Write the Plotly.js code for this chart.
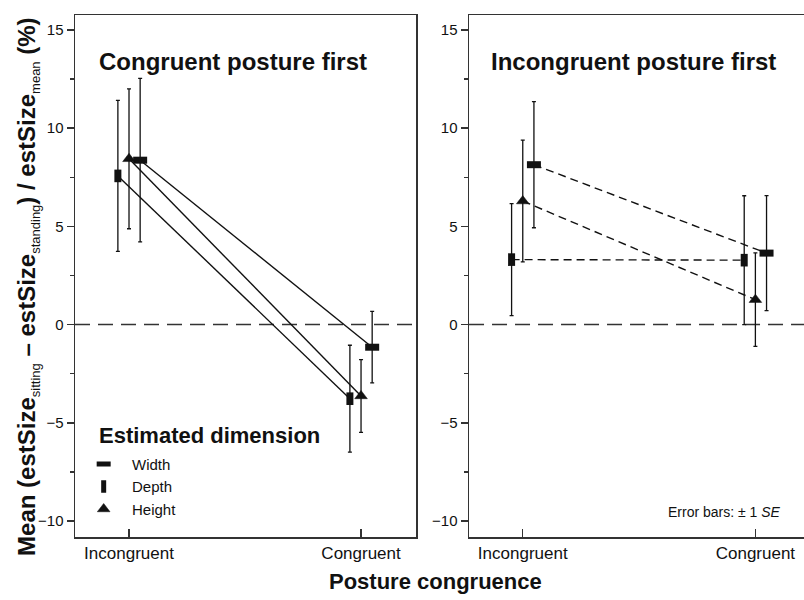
<!DOCTYPE html>
<html>
<head>
<meta charset="utf-8">
<script src="https://cdn.plot.ly/plotly-3.0.1.min.js"></script>
<style>html,body{margin:0;padding:0;background:#fff;}#chart{width:804px;height:600px;}</style>
</head>
<body>
<div id="chart"></div>
<script>
// ---- Data ----
const categories = ['Incongruent', 'Congruent'];
const dimensions = ['Width', 'Depth', 'Height'];

// Panel 1: Congruent posture first
const cfWidthMean  = [8.37, -1.15];
const cfWidthSE    = [4.16, 1.82];
const cfDepthMean  = [7.57, -3.77];
const cfDepthSE    = [3.84, 2.72];
const cfHeightMean = [8.44, -3.63];
const cfHeightSE   = [3.56, 1.85];

// Panel 2: Incongruent posture first
const ifWidthMean  = [8.14, 3.64];
const ifWidthSE    = [3.21, 2.93];
const ifDepthMean  = [3.31, 3.28];
const ifDepthSE    = [2.85, 3.28];
const ifHeightMean = [6.29, 1.27];
const ifHeightSE   = [3.10, 2.38];

const yTickVals = [-10, -5, 0, 5, 10, 15];

// ---- Styling ----
const FONT = 'Liberation Sans, Arial, sans-serif';
const INK = '#111';
const AX = '#333';
const offsets = {Width: 0.048, Depth: -0.048, Height: 0};
const symbols = {Width: 'line-ew', Depth: 'line-ns', Height: 'triangle-up'};
const sizes = {Width: 10, Depth: 9, Height: 11};
const lw = {Width: 7, Depth: 7, Height: 0.5};

const panels = [
  {xa: 'x', ya: 'y', dash: 'solid', legend: true,
   data: {Width: [cfWidthMean, cfWidthSE], Depth: [cfDepthMean, cfDepthSE], Height: [cfHeightMean, cfHeightSE]}},
  {xa: 'x2', ya: 'y2', dash: '8px,5px', legend: false,
   data: {Width: [ifWidthMean, ifWidthSE], Depth: [ifDepthMean, ifDepthSE], Height: [ifHeightMean, ifHeightSE]}}
];

const traces = [];
panels.forEach(p => {
  dimensions.forEach(dim => {
    const [mean, se] = p.data[dim];
    const xs = categories.map((c, i) => i + offsets[dim]);
    traces.push({
      type: 'scatter', mode: 'lines', x: xs, y: mean, xaxis: p.xa, yaxis: p.ya,
      line: {color: INK, width: 1.4, dash: p.dash}, showlegend: false, hoverinfo: 'skip'
    });
  });
  dimensions.forEach(dim => {
    const [mean, se] = p.data[dim];
    const xs = categories.map((c, i) => i + offsets[dim]);
    traces.push({
      type: 'scatter', mode: 'markers', name: '\u00A0\u00A0' + dim, x: xs, y: mean,
      xaxis: p.xa, yaxis: p.ya, showlegend: p.legend,
      marker: {symbol: symbols[dim], size: sizes[dim], color: INK, line: {color: INK, width: lw[dim]}},
      error_y: {type: 'data', array: se, visible: true, color: INK, thickness: 1.3, width: 2}
    });
  });
});

const yRange = [-10.81, 15.76];
function yAxis(extra) {
  return Object.assign({
    range: yRange, tickmode: 'array', tickvals: yTickVals, ticks: 'outside', ticklen: 7,
    tickwidth: 1.4, tickcolor: AX, showline: true, linecolor: AX, linewidth: 1.5,
    showgrid: false, zeroline: false, tickfont: {family: FONT, size: 15, color: INK},
    minor: {dtick: 2.5, tick0: 0, ticks: 'outside', ticklen: 4, tickcolor: AX, tickwidth: 1.2, showgrid: false}
  }, extra);
}
function xAxis(extra) {
  return Object.assign({
    tickmode: 'array', tickvals: [0, 1], ticktext: categories, ticks: 'inside', ticklen: 8,
    tickwidth: 1.4, tickcolor: AX, showline: true, linecolor: AX, linewidth: 1.5, mirror: true,
    showgrid: false, zeroline: false, tickfont: {family: FONT, size: 17, color: INK}
  }, extra);
}

const SUB = s => '<sub><span style="font-size:13px;font-weight:normal">' + s + '</span></sub>';

const layout = {
  width: 804, height: 600,
  margin: {l: 75, r: 0, t: 15, b: 63},
  paper_bgcolor: '#fff', plot_bgcolor: '#fff',
  font: {family: FONT, color: INK},
  showlegend: true,
  xaxis: xAxis({domain: [0, 0.4678], range: [-0.2328, 1.237]}),
  xaxis2: xAxis({domain: [0.5405, 1], range: [-0.231, 1.209], anchor: 'y2'}),
  yaxis: yAxis({anchor: 'x', mirror: true}),
  yaxis2: yAxis({anchor: 'x2', mirror: false}),
  legend: {
    x: 0.0119, y: 0.171, xanchor: 'left', yanchor: 'top', bgcolor: 'rgba(0,0,0,0)',
    font: {family: FONT, size: 15, color: INK},
    traceorder: 'normal'
  },
  shapes: [
    {type: 'line', xref: 'x domain', yref: 'y', x0: 0, x1: 1, y0: 0, y1: 0, layer: 'below',
     line: {color: AX, width: 1.5, dash: '15px,8px'}},
    {type: 'line', xref: 'x2 domain', yref: 'y2', x0: 0, x1: 1, y0: 0, y1: 0, layer: 'below',
     line: {color: AX, width: 1.5, dash: '15px,8px'}}
  ],
  annotations: [
    {xref: 'paper', yref: 'paper', x: 0.0302, y: 0.91, xanchor: 'left', yanchor: 'middle', showarrow: false,
     text: '<b>Congruent posture first</b>', font: {family: FONT, size: 24, color: INK}},
    {xref: 'paper', yref: 'paper', x: 0.568, y: 0.91, xanchor: 'left', yanchor: 'middle', showarrow: false,
     text: '<b>Incongruent posture first</b>', font: {family: FONT, size: 24, color: INK}},
    {xref: 'paper', yref: 'paper', x: 0.0302, y: 0.195, xanchor: 'left', yanchor: 'middle', showarrow: false,
     text: '<b>Estimated dimension</b>', font: {family: FONT, size: 22, color: INK}},
    {xref: 'paper', yref: 'paper', x: 0.971, y: 0.048, xanchor: 'right', yanchor: 'middle', showarrow: false,
     text: 'Error bars: \u00B1 1 <i>SE</i>', font: {family: FONT, size: 14, color: INK}},
    {xref: 'paper', yref: 'paper', x: 0.495, y: -0.086, xanchor: 'center', yanchor: 'middle', showarrow: false,
     text: '<b>Posture congruence</b>', font: {family: FONT, size: 22, color: INK}},
    {xref: 'paper', yref: 'paper', x: -0.0645, y: 0.481, xanchor: 'center', yanchor: 'middle', showarrow: false,
     textangle: -90,
     text: '<b>Mean (estSize' + SUB('sitting') + ' \u2013 estSize' + SUB('standing') + ') / estSize' + SUB('mean') + ' (%)</b>',
     font: {family: FONT, size: 24, color: INK}}
  ]
};

Plotly.newPlot('chart', traces, layout, {displayModeBar: false, staticPlot: true});
</script>
</body>
</html>
